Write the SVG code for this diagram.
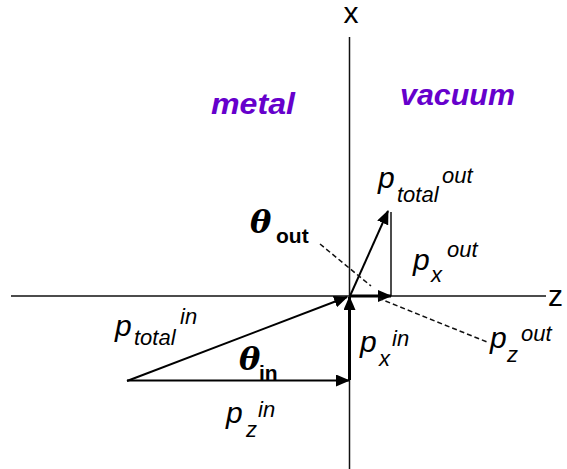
<svg xmlns="http://www.w3.org/2000/svg" width="567" height="469" viewBox="0 0 567 469">
<style>
.axis{stroke:#111;stroke-width:1.5;fill:none}
.vec{stroke:#000;stroke-width:2;fill:none}
.thick{stroke:#000;stroke-width:3;fill:none}
.dash{stroke:#111;stroke-width:1.5;stroke-dasharray:5,3;fill:none}
.p{font-family:"Liberation Sans",Arial,sans-serif;font-style:italic;font-size:30px;fill:#000}
.s{font-family:"Liberation Sans",Arial,sans-serif;font-style:italic;font-size:22px;fill:#000}
.ax{font-family:"Liberation Sans",Arial,sans-serif;font-size:30px;fill:#000}
.th{font-family:"DejaVu Serif",serif;font-style:italic;font-weight:bold;font-size:32px;fill:#000}
.ts{font-family:"Liberation Sans",Arial,sans-serif;font-weight:bold;font-size:21px;fill:#000}
.reg{font-family:"Liberation Sans",Arial,sans-serif;font-style:italic;font-weight:bold;font-size:29px;fill:#6600cc}
</style>
<defs>
<marker id="ah" markerUnits="userSpaceOnUse" markerWidth="14" markerHeight="12" viewBox="0 0 14 12" refX="13" refY="6" orient="auto">
<path d="M0,0 L14,6 L0,12 Z" fill="#000"/>
</marker>
</defs>
<g id="axes">
<line class="axis" x1="11" y1="296" x2="546" y2="296"/>
<line class="axis" x1="349.5" y1="37" x2="349.5" y2="469"/>
<text class="ax" x="351" y="23" text-anchor="middle">x</text>
<text class="ax" x="548" y="306">z</text>
</g>
<g id="regions">
<text class="reg" x="211" y="114" textLength="84" lengthAdjust="spacingAndGlyphs">metal</text>
<text class="reg" x="400" y="105" textLength="115" lengthAdjust="spacingAndGlyphs">vacuum</text>
</g>
<g id="connectors">
<line class="vec" x1="127" y1="381" x2="347" y2="297" marker-end="url(#ah)"/>
<line class="vec" x1="127" y1="380.5" x2="349" y2="380.5" marker-end="url(#ah)"/>
<line class="thick" x1="349.5" y1="380" x2="349.5" y2="297" marker-end="url(#ah)"/>
<line class="vec" x1="350" y1="296" x2="388" y2="211" marker-end="url(#ah)"/>
<line class="axis" x1="391" y1="212" x2="391" y2="296"/>
<line class="thick" x1="350" y1="296" x2="391" y2="296" marker-end="url(#ah)"/>
<line class="dash" x1="320" y1="244" x2="371" y2="286"/>
<line class="dash" x1="378" y1="298" x2="487" y2="342"/>
</g>
<g id="label-ptotal-in">
<text class="p" x="115" y="336">p</text>
<text class="s" x="134" y="345">total</text>
<text class="s" x="180" y="324">in</text>
</g>
<g id="label-theta-in">
<text class="th" x="239" y="370">θ</text>
<text class="ts" x="259" y="380">in</text>
</g>
<g id="label-theta-out">
<text class="th" x="250" y="233">θ</text>
<text class="ts" x="276" y="243">out</text>
</g>
<g id="label-pz-in">
<text class="p" x="226" y="423">p</text>
<text class="s" x="246" y="437">z</text>
<text class="s" x="258" y="417">in</text>
</g>
<g id="label-px-in">
<text class="p" x="360" y="352">p</text>
<text class="s" x="379" y="366">x</text>
<text class="s" x="392" y="346">in</text>
</g>
<g id="label-ptotal-out">
<text class="p" x="378" y="188">p</text>
<text class="s" x="397" y="202">total</text>
<text class="s" x="442" y="183">out</text>
</g>
<g id="label-px-out">
<text class="p" x="413" y="270">p</text>
<text class="s" x="431" y="282">x</text>
<text class="s" x="447" y="257">out</text>
</g>
<g id="label-pz-out">
<text class="p" x="490" y="348">p</text>
<text class="s" x="507" y="362">z</text>
<text class="s" x="521" y="341">out</text>
</g>
</svg>
